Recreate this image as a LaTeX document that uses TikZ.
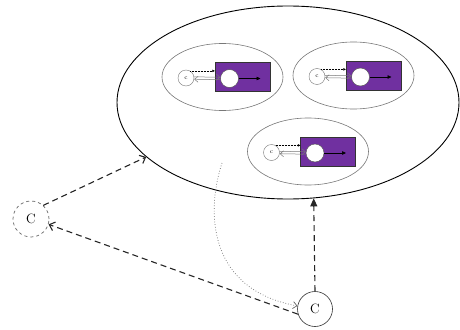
\documentclass[tikz,border=0pt]{standalone}
\usetikzlibrary{arrows.meta,shapes.geometric}
\definecolor{boxpurple}{RGB}{112,48,160}
\definecolor{ringgray}{RGB}{120,120,120}
\begin{document}
\begin{tikzpicture}[x=1pt,y=-1pt,
  bigell/.style={draw=black,line width=0.9pt,ellipse,inner sep=0pt,minimum width=342pt,minimum height=193pt},
  subell/.style={draw=ringgray,line width=0.6pt,ellipse,inner sep=0pt,minimum width=121pt,minimum height=67pt},
  pbox/.style={draw=black!80,line width=0.4pt,fill=boxpurple,inner sep=0pt,minimum width=55pt,minimum height=29pt},
  wdot/.style={circle,draw=black!70,line width=0.4pt,fill=white,inner sep=0pt,minimum size=18pt},
  smallc/.style={circle,draw=ringgray,line width=0.4pt,fill=white,inner sep=0pt,minimum size=16pt,font=\fontsize{6}{6}\selectfont},
  bigc/.style={circle,inner sep=0pt,minimum size=#1,font=\fontsize{13.5}{13.5}\selectfont},
  dasharrow/.style={dashed,dash pattern=on 6pt off 4pt,line width=1.1pt,black!85},
]
\useasboundingbox (0,0) rectangle (460,329);
\node[bigell] (big) at (288,102.5) {};
\foreach \i/\ex/\ey in {1/222.5/77, 2/353.5/75.5, 3/308/151.5}{
  \node[subell] (e\i) at (\ex,\ey) {};
  \node[pbox] (r\i) at (\ex+20,\ey) {};
  \node[wdot] (w\i) at (\ex+7,\ey+1.5) {};
  \node[smallc] (c\i) at (\ex-36.5,\ey+1) {c};
  \coordinate (t\i) at (\ex+38,\ey+1.5);
  \draw[line width=0.6pt,-{Triangle[length=4pt,width=3.5pt]}] (w\i.east) -- (t\i);
  \draw[densely dotted,line width=0.5pt,-{Triangle[length=2.5pt,width=2.5pt]}] (c\i.60) -- (c\i.60 -| r\i.west);
  \draw[ringgray,line width=0.5pt,-{Straight Barb[length=3.5pt,width=6pt]}] ([yshift=1.2pt]c\i.east) -- ([yshift=1.2pt]w\i.west);
  \draw[ringgray,line width=0.5pt,{Straight Barb[length=3.5pt,width=6pt]}-] ([yshift=-1.2pt]c\i.east) -- ([yshift=-1.2pt]w\i.west);
}
\node[bigc=36pt,draw=black!60,dashed,line width=0.7pt] (lc) at (31,219) {C};
\node[bigc=35pt,draw=black!80,line width=0.6pt] (bc) at (315,309) {C};
\coordinate (cs) at (222,163);
\draw[dasharrow,-{Straight Barb[length=5pt,width=9pt]}] (lc.48) -- (big.201.6);
\draw[dasharrow,-{Straight Barb[length=5pt,width=9pt]}] (bc.197) -- (lc.-17);
\draw[dasharrow,-{Triangle[length=8pt,width=7pt]}] (bc.north) -- (big.285.8);
\draw[black!60,dotted,line width=0.7pt,-{Straight Barb[length=4pt,width=7pt]}] (cs) .. controls (205,215) and (210,290) .. (bc.170);
\end{tikzpicture}
\end{document}
